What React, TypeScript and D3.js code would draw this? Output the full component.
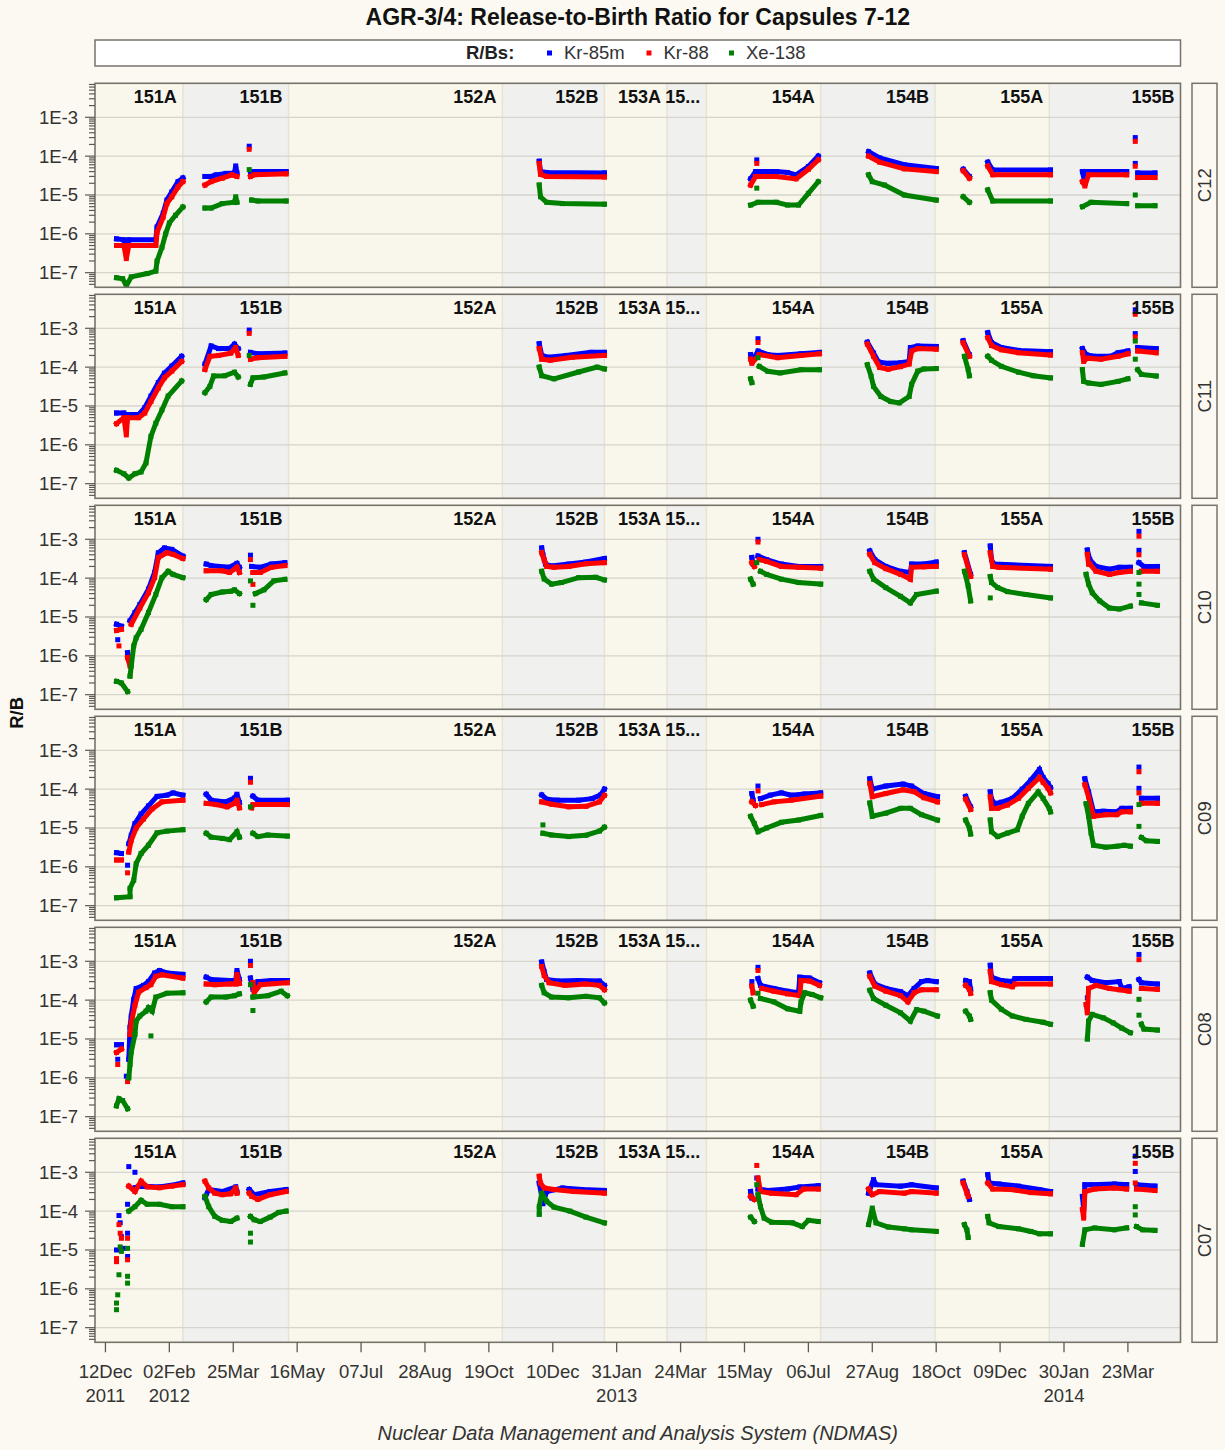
import { useEffect, useRef } from "react";
import * as d3 from "d3";

type Pt = [number, number];
type Runs = Pt[][];

// categories
const capsules = ["C12", "C11", "C10", "C09", "C08", "C07"];
const isotopes = ["Kr-85m", "Kr-88", "Xe-138"];
const cycleNames = ["151A", "151B", "152A", "152B", "153A", "153B", "154A", "154B", "155A", "155B"];
// end date of each cycle band (last one runs to the axis end)
const cycleEnds = ["2012-02-13", "2012-05-09", "2012-10-30", "2013-01-21", "2013-03-13", "2013-04-14", "2013-07-16", "2013-10-17", "2014-01-18", "2014-05-06"];
const tickDates = ["2011-12-12", "2012-02-02", "2012-03-25", "2012-05-16", "2012-07-07", "2012-08-28", "2012-10-19", "2012-12-10", "2013-01-31", "2013-03-24", "2013-05-15", "2013-07-06", "2013-08-27", "2013-10-18", "2013-12-09", "2014-01-30", "2014-03-23"];
const yTicks = [1e-7, 1e-6, 1e-5, 1e-4, 1e-3];

// series points: [days since 12Dec2011, R/B]; each inner list is one run of points
const START = "2011-12-12";

const c12Kr85m: Runs = [
  [[9,7.4e-7],[15,7e-7],[17,3e-7],[19,7e-7],[41,7e-7],[42,1.5e-6],[47,3.4e-6],[50,7.4e-6],[54,1.2e-5],[59,2.2e-5],[63,2.75e-5]],
  [[81,3e-5],[86,3e-5],[90,3.3e-5],[98,3.6e-5],[105,3.7e-5],[106,5.6e-5],[107,3.7e-5]],
  [[117,1.8e-4]],
  [[118,4e-5],[147,4e-5]],
  [[353,7.4e-5],[354,4e-5],[359,3.8e-5],[406,3.7e-5]],
  [[525,2.6e-5],[529,4e-5],[546,4e-5],[555,3.8e-5],[562,3.3e-5],[572,5.4e-5],[580,1e-4]],
  [[530,8e-5]],
  [[621,1.3e-4],[630,9e-5],[650,6e-5],[676,4.8e-5]],
  [[698,4.6e-5],[703,3e-5]],
  [[718,7e-5],[722,4.4e-5],[769,4.4e-5]],
  [[795,4e-5],[797,2e-5],[799,4e-5],[831,4e-5]],
  [[838,3e-4]],
  [[838,6.5e-5]],
  [[840,3.7e-5],[854,3.7e-5]],
];
const c12Kr88: Runs = [
  [[9,5e-7],[15,5e-7],[17,2.3e-7],[19,5e-7],[41,5e-7],[42,1.1e-6],[47,2.7e-6],[50,6e-6],[54,9e-6],[59,1.6e-5],[63,2.2e-5]],
  [[81,1.8e-5],[86,2.2e-5],[95,2.7e-5],[103,3.3e-5],[107,3e-5]],
  [[117,1.5e-4]],
  [[118,3e-5],[121,3.3e-5],[147,3.5e-5]],
  [[353,6.5e-5],[354,3.4e-5],[359,3e-5],[406,2.9e-5]],
  [[525,1.8e-5],[529,3e-5],[546,3e-5],[562,2.6e-5],[572,4.6e-5],[580,8e-5]],
  [[530,6.5e-5]],
  [[621,1e-4],[630,7e-5],[650,4.7e-5],[676,4e-5]],
  [[698,4.2e-5],[703,2.7e-5]],
  [[718,5.5e-5],[722,3.3e-5],[769,3.3e-5]],
  [[795,2.2e-5],[797,1.7e-5],[800,3.3e-5],[831,3.3e-5]],
  [[838,2.4e-4]],
  [[838,5.5e-5]],
  [[840,2.8e-5],[854,2.8e-5]],
];
const c12Xe138: Runs = [
  [[9,7.4e-8],[14,7e-8],[17,4.6e-8],[21,7.8e-8],[34,9.5e-8],[41,1.1e-7],[42,2e-7],[46,4.5e-7],[49,1e-6],[52,1.9e-6],[57,3e-6],[63,4.9e-6]],
  [[81,4.6e-6],[86,4.6e-6],[95,6e-6],[105,6.5e-6],[106,9e-6],[107,6.5e-6]],
  [[117,4.5e-5]],
  [[119,7.4e-6],[124,7e-6],[147,7e-6]],
  [[353,1.8e-5],[354,9e-6],[359,6.5e-6],[372,6e-6],[406,5.8e-6]],
  [[525,5.5e-6],[531,6.5e-6],[546,6.5e-6],[555,5.5e-6],[564,5.5e-6],[572,1.1e-5],[580,2.2e-5]],
  [[530,1.5e-5]],
  [[621,3.3e-5],[624,2.2e-5],[634,1.8e-5],[650,1e-5],[676,7.4e-6]],
  [[698,9e-6],[703,6.5e-6]],
  [[718,1.35e-5],[722,7e-6],[769,7e-6]],
  [[795,5e-6],[802,6.5e-6],[831,6e-6]],
  [[838,1e-5]],
  [[840,5.3e-6],[854,5.3e-6]],
];

const c11Kr85m: Runs = [
  [[9,6.6e-6],[15,6.6e-6],[17,3.1e-6],[18,6e-6],[27,6e-6],[32,9e-6],[37,1.8e-5],[43,4e-5],[48,7e-5],[54,1.07e-4],[62,1.9e-4]],
  [[81,1.2e-4],[86,3.5e-4],[92,3e-4],[101,3e-4],[105,3.9e-4],[108,3e-4]],
  [[117,9e-4]],
  [[118,2.4e-4],[124,2.2e-4],[146,2.3e-4]],
  [[353,4e-4],[355,2e-4],[360,1.8e-4],[375,2e-4],[395,2.4e-4],[406,2.4e-4]],
  [[525,2.1e-4],[526,1.4e-4],[531,2.6e-4],[539,2.1e-4],[547,2e-4],[566,2.2e-4],[581,2.4e-4]],
  [[531,5.4e-4]],
  [[620,4.4e-4],[625,2.3e-4],[629,1.35e-4],[637,1.25e-4],[647,1.3e-4],[654,1.4e-4],[655,3.2e-4],[661,3.5e-4],[676,3.4e-4]],
  [[698,4.8e-4],[703,2.1e-4]],
  [[718,7.7e-4],[721,4.3e-4],[729,3.2e-4],[743,2.7e-4],[769,2.5e-4]],
  [[795,3e-4],[798,2.1e-4],[804,1.9e-4],[818,1.9e-4],[824,2.35e-4],[832,2.6e-4]],
  [[838,3e-3]],
  [[838,7.3e-4]],
  [[840,3.2e-4],[855,3e-4]],
];
const c11Kr88: Runs = [
  [[9,3.5e-6],[15,5e-6],[17,1.8e-6],[18,5e-6],[27,5e-6],[32,6.6e-6],[37,1.3e-5],[43,2.9e-5],[48,5.3e-5],[54,7.9e-5],[62,1.4e-4]],
  [[81,8.7e-5],[85,1.9e-4],[92,2e-4],[102,2.3e-4],[106,3.2e-4],[108,2e-4]],
  [[117,7.4e-4]],
  [[118,1.6e-4],[124,1.75e-4],[146,1.9e-4]],
  [[353,3e-4],[355,1.6e-4],[362,1.5e-4],[380,1.8e-4],[406,2e-4]],
  [[525,1.6e-4],[526,1.25e-4],[532,2.1e-4],[547,1.75e-4],[566,2e-4],[581,2.2e-4]],
  [[531,4.3e-4]],
  [[620,3.9e-4],[625,1.9e-4],[630,9.8e-5],[637,8.8e-5],[647,1.03e-4],[654,1.2e-4],[656,2.6e-4],[661,3e-4],[676,2.9e-4]],
  [[698,4.2e-4],[703,1.9e-4]],
  [[718,5.7e-4],[721,3.6e-4],[729,2.8e-4],[743,2.35e-4],[769,2.05e-4]],
  [[795,2.35e-4],[796,1.4e-4],[799,1.7e-4],[810,1.6e-4],[824,1.9e-4],[832,2.2e-4]],
  [[838,2.3e-3]],
  [[838,6e-4]],
  [[840,2.6e-4],[855,2.35e-4]],
];
const c11Xe138: Runs = [
  [[9,2.2e-7],[15,1.8e-7],[19,1.4e-7],[24,1.8e-7],[29,2e-7],[33,3.4e-7],[37,1.65e-6],[41,3.6e-6],[46,7.9e-6],[51,1.8e-5],[62,4.4e-5]],
  [[81,2.2e-5],[85,3.2e-5],[88,5.9e-5],[97,6e-5],[105,7.4e-5],[108,5.6e-5]],
  [[117,2e-4]],
  [[118,3.6e-5],[120,5.3e-5],[129,5.6e-5],[146,7.1e-5]],
  [[353,1e-4],[355,6e-5],[365,5e-5],[385,7.5e-5],[400,1e-4],[406,9e-5]],
  [[525,5e-5],[526,4e-5]],
  [[531,1.75e-4]],
  [[532,1.05e-4],[539,7.8e-5],[549,7.1e-5],[566,8.6e-5],[581,8.6e-5]],
  [[620,1.15e-4],[623,5.9e-5],[625,3.2e-5],[631,1.75e-5],[639,1.3e-5],[646,1.2e-5],[654,1.75e-5],[656,3.6e-5],[661,7.9e-5],[666,9e-5],[676,9.2e-5]],
  [[699,1.9e-4],[702,8.7e-5],[703,6e-5]],
  [[718,1.9e-4],[721,1.5e-4],[729,1.05e-4],[743,7.4e-5],[755,6e-5],[769,5.3e-5]],
  [[795,8.6e-5],[796,4.3e-5],[800,3.9e-5],[810,3.6e-5],[824,4.3e-5],[832,5e-5]],
  [[838,4.7e-4]],
  [[838,1.6e-4]],
  [[840,8.6e-5],[843,6.5e-5],[855,5.9e-5]],
];

const c10Kr85m: Runs = [
  [[9,6.5e-6],[13,5.8e-6]],
  [[10,2.6e-6]],
  [[18,1.2e-6],[19,8e-7]],
  [[20,8e-6],[24,1.3e-5],[28,2.1e-5],[35,5.2e-5],[40,1.4e-4],[43,4.5e-4],[48,6e-4],[54,5.5e-4],[63,3.7e-4]],
  [[82,2.3e-4],[86,2.1e-4],[101,1.9e-4],[107,2.4e-4],[109,1.9e-4]],
  [[118,3.9e-4]],
  [[119,2e-4],[126,1.9e-4],[135,2.3e-4],[146,2.5e-4]],
  [[355,6e-4],[356,4e-4],[358,2.3e-4],[363,2.05e-4],[377,2.3e-4],[391,2.6e-4],[406,3.2e-4]],
  [[526,3.4e-4],[527,2.3e-4]],
  [[531,1e-3]],
  [[531,3.7e-4],[538,3e-4],[550,2.3e-4],[564,2e-4],[582,2e-4]],
  [[622,5e-4],[626,3e-4],[635,2e-4],[647,1.5e-4],[655,1.4e-4],[656,2.3e-4],[666,2.3e-4],[676,2.6e-4]],
  [[699,4.5e-4],[704,1.25e-4]],
  [[720,6.7e-4],[721,3e-4],[723,2.3e-4],[769,2e-4]],
  [[799,5.3e-4],[801,3e-4],[806,2e-4],[817,1.7e-4],[825,1.9e-4],[834,1.9e-4]],
  [[841,1.6e-3]],
  [[841,5.2e-4]],
  [[841,2.5e-4],[845,2e-4],[856,2e-4]],
];
const c10Kr88: Runs = [
  [[9,4.5e-6],[13,4.8e-6]],
  [[11,1.8e-6]],
  [[18,9e-7],[20,5.5e-7]],
  [[21,6.5e-6],[28,1.7e-5],[35,4.2e-5],[40,1.03e-4],[43,3.4e-4],[50,4.5e-4],[55,4.1e-4],[63,3.2e-4]],
  [[82,1.55e-4],[95,1.55e-4],[101,1.4e-4],[107,1.9e-4],[109,1.4e-4]],
  [[118,3e-4]],
  [[120,1.4e-4],[126,1.4e-4],[135,1.9e-4],[146,2.1e-4]],
  [[120,6.9e-5]],
  [[355,4.5e-4],[357,3e-4],[359,2e-4],[365,1.9e-4],[377,2e-4],[391,2.35e-4],[406,2.5e-4]],
  [[526,2.5e-4],[528,2e-4]],
  [[531,8.5e-4]],
  [[532,3e-4],[538,2.7e-4],[550,2e-4],[564,1.9e-4],[582,1.8e-4]],
  [[622,4.1e-4],[626,2.5e-4],[635,1.75e-4],[647,1.25e-4],[655,9.4e-5],[656,1.9e-4],[666,1.95e-4],[676,2e-4]],
  [[699,4e-4],[704,1.1e-4]],
  [[720,4.5e-4],[722,2e-4],[727,1.9e-4],[769,1.7e-4]],
  [[799,4.1e-4],[800,2.3e-4],[801,2.3e-4],[806,1.5e-4],[817,1.25e-4],[825,1.4e-4],[834,1.5e-4]],
  [[841,1.2e-3]],
  [[841,4e-4]],
  [[843,1.5e-4],[856,1.5e-4]],
];
const c10Xe138: Runs = [
  [[9,2.2e-7],[13,2e-7],[18,1.2e-7]],
  [[20,3e-7],[21,5.5e-7],[23,1.8e-6],[25,2.9e-6],[29,4.8e-6],[35,1.3e-5],[41,3.8e-5],[46,1.03e-4],[51,1.5e-4],[55,1.25e-4],[63,1.03e-4]],
  [[82,2.8e-5],[86,3.8e-5],[95,4.4e-5],[102,4.6e-5],[105,5e-5],[109,4e-5]],
  [[118,8.5e-5]],
  [[120,2e-5]],
  [[122,4e-5],[129,5e-5],[137,8.5e-5],[146,9.3e-5]],
  [[355,1.5e-4],[357,9.5e-5],[363,7e-5],[371,7.7e-5],[385,1.03e-4],[399,1.05e-4],[406,9e-5]],
  [[525,9.4e-5],[527,7e-5]],
  [[530,2.5e-4]],
  [[533,1.5e-4],[538,1.25e-4],[550,9.4e-5],[564,7.7e-5],[582,7e-5]],
  [[622,1.5e-4],[625,9.4e-5],[635,5.7e-5],[647,3.4e-5],[655,2.3e-5],[660,3.8e-5],[676,4.6e-5]],
  [[699,1.5e-4],[702,6.3e-5],[704,2.6e-5]],
  [[720,1.1e-4],[721,7.7e-5],[726,5.7e-5],[734,4.5e-5],[749,3.8e-5],[769,3.1e-5]],
  [[720,3.1e-5]],
  [[798,1.25e-4],[800,7e-5],[803,4.2e-5],[809,2.6e-5],[817,1.7e-5],[825,1.6e-5],[834,1.9e-5]],
  [[841,1.4e-4]],
  [[841,7e-5]],
  [[841,3.8e-5]],
  [[843,2.3e-5],[856,2e-5]],
];

const c09Kr85m: Runs = [
  [[9,2.3e-6],[13,2.2e-6]],
  [[18,1.1e-6]],
  [[19,3.9e-6],[21,6.5e-6],[24,1.3e-5],[29,2.3e-5],[35,3.7e-5],[42,6.5e-5],[50,7e-5],[55,8e-5],[63,7e-5]],
  [[82,7.4e-5],[86,5.2e-5],[98,4.7e-5],[105,5.9e-5],[107,7.4e-5],[109,4.5e-5]],
  [[118,1.9e-4]],
  [[120,6.6e-5],[124,5.2e-5],[148,5.2e-5]],
  [[355,7.1e-5],[359,5.5e-5],[368,5.2e-5],[385,5.2e-5],[396,5.7e-5],[403,7.1e-5],[406,1e-4]],
  [[526,7.7e-5],[527,5.2e-5]],
  [[531,1.2e-4]],
  [[533,5.7e-5],[541,7e-5],[550,8e-5],[558,7e-5],[569,7.5e-5],[582,8e-5]],
  [[622,1.85e-4],[624,1e-4],[635,1.2e-4],[649,1.35e-4],[656,1.2e-4],[666,7.7e-5],[677,6.4e-5]],
  [[700,6.5e-5],[704,3.5e-5]],
  [[720,8.5e-5],[721,5.5e-5],[724,4.2e-5],[729,4.6e-5],[738,5.8e-5],[746,1e-4],[753,1.7e-4],[760,3.2e-4],[763,2e-4],[767,1.4e-4],[769,1.1e-4]],
  [[797,1.85e-4],[800,8.5e-5],[804,2.6e-5],[812,2.7e-5],[823,2.6e-5],[827,3.2e-5],[834,3.2e-5]],
  [[841,3.7e-4]],
  [[841,1.05e-4]],
  [[843,5.8e-5],[856,5.8e-5]],
];
const c09Kr88: Runs = [
  [[9,1.5e-6],[13,1.5e-6]],
  [[18,7e-7]],
  [[19,2.4e-6],[21,4.8e-6],[25,1e-5],[31,1.7e-5],[38,3.1e-5],[46,4.7e-5],[63,5.2e-5]],
  [[82,4.3e-5],[90,4e-5],[99,3.5e-5],[105,4.3e-5],[107,5.2e-5],[109,3.3e-5]],
  [[118,1.5e-4]],
  [[119,3.3e-5],[120,4e-5],[148,4e-5]],
  [[355,4.7e-5],[363,4.1e-5],[377,3.5e-5],[391,3.6e-5],[402,4.7e-5],[406,6.9e-5]],
  [[526,4.7e-5],[529,3.8e-5]],
  [[531,9e-5]],
  [[534,4e-5],[544,4.7e-5],[558,5.2e-5],[582,6.6e-5]],
  [[622,1.4e-4],[624,6.4e-5],[635,7.7e-5],[649,9.6e-5],[658,8.6e-5],[666,6e-5],[677,4.7e-5]],
  [[700,5.5e-5],[704,3e-5]],
  [[720,6.3e-5],[721,3.2e-5],[726,3.2e-5],[734,3.9e-5],[743,5.8e-5],[751,1.05e-4],[760,2e-4],[763,1.5e-4],[767,1.05e-4],[769,8e-5]],
  [[797,1.3e-4],[800,6.3e-5],[804,2e-5],[814,2.2e-5],[823,2.2e-5],[827,2.6e-5],[834,2.6e-5]],
  [[841,2.8e-4]],
  [[841,8e-5]],
  [[843,4.3e-5],[856,4.3e-5]],
];
const c09Xe138: Runs = [
  [[9,1.6e-7],[20,1.7e-7],[20,2.8e-7],[23,4.5e-7],[25,1.2e-6],[29,2.2e-6],[35,3.6e-6],[42,7.5e-6],[50,8.3e-6],[63,9e-6]],
  [[82,7.3e-6],[86,5.8e-6],[95,5.4e-6],[101,5e-6],[107,8e-6],[109,5.8e-6]],
  [[118,3.5e-5]],
  [[120,7.3e-6],[124,6e-6],[132,6.6e-6],[148,6.2e-6]],
  [[356,1.2e-5]],
  [[356,7.3e-6],[363,6.6e-6],[377,6e-6],[391,6.5e-6],[402,8.3e-6],[406,1.05e-5]],
  [[525,2e-5],[528,1.3e-5],[531,8e-6],[538,1e-5],[550,1.4e-5],[564,1.6e-5],[582,2.1e-5]],
  [[622,4.4e-5],[624,2e-5],[635,2.4e-5],[647,3.2e-5],[655,3.2e-5],[664,2.2e-5],[677,1.6e-5]],
  [[700,1.6e-5],[703,1e-5],[704,7e-6]],
  [[720,1.6e-5],[721,8e-6],[726,6e-6],[734,7.4e-6],[742,9e-6],[746,2e-5],[751,4.3e-5],[759,8.5e-5],[763,5.8e-5],[768,3.2e-5],[769,2.6e-5]],
  [[798,4.2e-5],[800,2e-5],[802,7.4e-6],[804,3.6e-6],[814,3.2e-6],[823,3.4e-6],[829,3.6e-6],[834,3.4e-6]],
  [[841,4e-5]],
  [[841,1.1e-5]],
  [[843,5.7e-6],[847,4.7e-6],[856,4.5e-6]],
];

const c08Kr85m: Runs = [
  [[9,7.1e-6],[13,7.1e-6]],
  [[10,3e-6]],
  [[17,1.1e-6]],
  [[19,3e-6],[20,2e-5],[21,3.9e-5],[23,1.05e-4],[25,2e-4],[31,2.4e-4],[35,3e-4],[40,5e-4],[44,5.8e-4],[50,5e-4],[63,4.6e-4]],
  [[82,3.9e-4],[86,3.4e-4],[101,3.2e-4],[106,3.2e-4],[107,5.8e-4],[109,3.4e-4]],
  [[118,1e-3]],
  [[118,3.7e-4],[120,1.9e-4],[124,3e-4],[135,3.2e-4],[148,3.2e-4]],
  [[355,9.6e-4],[357,5.5e-4],[359,3.4e-4],[368,3.1e-4],[385,3.2e-4],[402,3.1e-4],[406,2.4e-4]],
  [[526,3e-4]],
  [[531,7e-4]],
  [[531,3.6e-4],[533,2.4e-4],[544,2e-4],[555,1.7e-4],[564,1.55e-4],[565,3.9e-4],[573,3.7e-4],[581,2.8e-4]],
  [[622,5e-4],[626,2.6e-4],[635,2e-4],[647,1.65e-4],[653,1.3e-4],[658,2e-4],[664,3e-4],[669,3.2e-4],[676,3e-4]],
  [[700,3.2e-4],[703,3e-4],[704,1.9e-4]],
  [[720,7.9e-4],[721,3.9e-4],[729,3.2e-4],[738,3e-4],[740,3.6e-4],[769,3.6e-4]],
  [[799,1.15e-4]],
  [[799,3.9e-4],[803,3.2e-4],[814,2.8e-4],[825,3e-4],[827,2e-4],[833,2.2e-4]],
  [[841,1.5e-3]],
  [[841,3.4e-4],[843,2.8e-4],[856,2.6e-4]],
];
const c08Kr88: Runs = [
  [[9,4.5e-6],[13,5.5e-6]],
  [[10,2.2e-6]],
  [[18,8e-7]],
  [[20,1.3e-5],[21,2.6e-5],[24,7.4e-5],[27,1.6e-4],[33,2.1e-4],[37,2.5e-4],[41,4.1e-4],[46,4.5e-4],[63,3.7e-4]],
  [[82,2.6e-4],[89,2.5e-4],[101,2.6e-4],[106,2.6e-4],[107,4.6e-4],[109,2.7e-4]],
  [[118,7.8e-4]],
  [[120,2.8e-4],[121,1.55e-4],[126,2.5e-4],[148,2.8e-4]],
  [[355,7.3e-4],[357,4.3e-4],[361,2.8e-4],[374,2.4e-4],[391,2.6e-4],[402,2.4e-4],[406,1.85e-4]],
  [[526,2.3e-4],[527,1.55e-4]],
  [[531,5.8e-4]],
  [[534,2e-4],[544,1.7e-4],[555,1.45e-4],[565,1.3e-4],[566,3.2e-4],[573,3.1e-4],[581,2.4e-4]],
  [[622,4.1e-4],[626,2.3e-4],[635,1.7e-4],[647,1.3e-4],[653,9e-5],[658,1.55e-4],[664,1.85e-4],[676,1.85e-4]],
  [[700,2.4e-4],[703,1.9e-4],[704,1.5e-4]],
  [[720,5.5e-4],[721,3e-4],[729,2.5e-4],[738,2.2e-4],[740,2.6e-4],[769,2.6e-4]],
  [[798,7.7e-5],[799,4.7e-5],[800,2e-4],[806,2.4e-4],[817,2e-4],[825,1.85e-4],[833,1.7e-4]],
  [[841,1.1e-3]],
  [[843,2e-4],[856,1.9e-4]],
];
const c08Xe138: Runs = [
  [[9,1.9e-7],[11,2.9e-7],[14,2.6e-7],[18,1.6e-7]],
  [[19,1e-6],[20,2.2e-6],[21,4.6e-6],[24,1.3e-5],[25,2.9e-5],[28,3.9e-5],[33,5.2e-5],[35,6.4e-5],[38,5.2e-5],[41,1.2e-4],[50,1.5e-4],[63,1.55e-4]],
  [[37,1.2e-5]],
  [[82,9e-5],[86,1.2e-4],[98,1.2e-4],[105,1.3e-4],[109,1.45e-4]],
  [[118,2.5e-4]],
  [[120,5.4e-5]],
  [[120,1.2e-4],[132,1.3e-4],[143,1.7e-4],[148,1.3e-4]],
  [[355,2.4e-4],[357,1.55e-4],[363,1.2e-4],[377,1.15e-4],[391,1.25e-4],[402,1.15e-4],[406,8.5e-5]],
  [[525,1e-4],[527,7e-5]],
  [[531,1.5e-4]],
  [[533,1.1e-4],[544,9e-5],[555,6e-5],[565,5.2e-5],[566,9e-5],[569,1.55e-4],[575,1.4e-4],[582,1.15e-4]],
  [[622,1.8e-4],[625,1.1e-4],[635,7.4e-5],[647,4.7e-5],[655,2.9e-5],[660,5.7e-5],[666,5.2e-5],[677,3.9e-5]],
  [[700,5.2e-5],[703,3.9e-5],[704,3.2e-5]],
  [[720,1.55e-4],[721,1e-4],[729,5.8e-5],[738,3.9e-5],[749,3.2e-5],[763,2.7e-5],[769,2.4e-5]],
  [[799,1e-5],[800,2.9e-5],[803,4.3e-5],[812,3.5e-5],[820,2.6e-5],[827,1.9e-5],[834,1.45e-5]],
  [[841,1.05e-4]],
  [[841,4.1e-5]],
  [[843,2.4e-5],[845,1.8e-5],[856,1.7e-5]],
];

const c07Kr85m: Runs = [
  [[9,1e-5]], [[11,7.7e-5]], [[12,5e-5]], [[13,2.2e-5]], [[15,1.1e-5]], [[18,2.7e-5]], [[18,6.8e-6]], [[18,1.5e-4]], [[19,1.4e-3]], [[24,1e-3]],
  [[24,4e-4],[28,4.4e-4],[44,4.2e-4],[60,5e-4],[63,5.3e-4]],
  [[81,2.2e-4],[84,3.6e-4],[95,3.2e-4],[106,4.2e-4],[107,3.2e-4]],
  [[117,3.6e-4],[121,2.65e-4],[134,3.2e-4],[147,3.6e-4]],
  [[353,5.3e-4],[355,2.4e-4],[356,1.55e-4],[359,3.2e-4],[372,3.95e-4],[388,3.6e-4],[406,3.4e-4]],
  [[525,3.2e-4],[526,2.2e-4]],
  [[530,7.1e-4]],
  [[531,3.7e-4],[539,3.4e-4],[555,3.7e-4],[565,4.2e-4],[580,4.5e-4]],
  [[621,2.9e-4],[625,6.5e-4],[627,4.8e-4],[647,4.4e-4],[656,4.8e-4],[676,3.95e-4]],
  [[698,5.9e-4],[701,3.2e-4],[703,2e-4]],
  [[718,8.7e-4],[719,5.3e-4],[727,5e-4],[743,4.4e-4],[760,3.6e-4],[769,3.2e-4]],
  [[795,2.4e-4],[796,1.1e-4],[797,4.8e-4],[802,4.8e-4],[821,5e-4],[831,4.8e-4]],
  [[838,2.6e-3]],
  [[838,1.05e-3]],
  [[839,4.8e-4],[854,4.4e-4]],
];
const c07Kr88: Runs = [
  [[9,6e-6]], [[9,5e-6]], [[11,4.5e-5]], [[12,2.7e-5]], [[13,2e-5]], [[18,2e-5]], [[18,5.6e-6]],
  [[19,4.4e-4],[24,3.2e-4],[29,5.9e-4],[34,4.2e-4],[44,4e-4],[54,4.4e-4],[63,4.8e-4]],
  [[81,5.9e-4],[84,3.95e-4],[89,2.9e-4],[95,2.65e-4],[102,2.8e-4],[106,4e-4],[107,2.9e-4]],
  [[117,2.9e-4],[119,2.4e-4],[124,2e-4],[134,2.65e-4],[147,3.2e-4]],
  [[353,7.9e-4],[354,5.3e-4],[357,3.95e-4],[365,3.6e-4],[381,3.2e-4],[406,2.9e-4]],
  [[525,2.4e-4],[528,2e-4]],
  [[530,1.5e-3]],
  [[531,7.1e-4],[533,3.2e-4],[542,2.9e-4],[562,2.65e-4],[568,3.7e-4],[580,3.7e-4]],
  [[621,3.7e-4],[624,2.65e-4],[630,3.2e-4],[650,2.9e-4],[656,3.2e-4],[676,2.9e-4]],
  [[698,5.3e-4],[701,2.9e-4],[702,2.4e-4]],
  [[718,5.3e-4],[722,3.7e-4],[737,3.6e-4],[753,3e-4],[769,2.8e-4]],
  [[795,1.1e-4],[796,6.6e-5],[797,3.2e-4],[805,3.7e-4],[821,3.95e-4],[831,3.7e-4]],
  [[838,1.7e-3]],
  [[838,5.3e-4]],
  [[839,3.7e-4],[854,3.4e-4]],
];
const c07Xe138: Runs = [
  [[9,2.9e-7]], [[9,4.3e-7]], [[10,7e-7]], [[11,2.3e-6]], [[12,1.2e-5]], [[13,9.2e-6]], [[18,1.4e-6]], [[18,2.1e-6]], [[18,1.1e-5]],
  [[19,1e-4],[24,1.3e-4],[29,1.9e-4],[34,1.5e-4],[44,1.5e-4],[54,1.3e-4],[63,1.3e-4]],
  [[81,2.4e-4],[84,1.3e-4],[89,7.3e-5],[95,5.8e-5],[102,5.4e-5],[107,6.6e-5]],
  [[118,2.7e-5]], [[118,1.6e-5]],
  [[118,7.3e-5],[121,6e-5],[126,5.4e-5],[134,7e-5],[141,9.3e-5],[147,1e-4]],
  [[353,8.3e-5],[353,1.3e-4],[355,2.9e-4],[359,1.8e-4],[365,1.27e-4],[378,1e-4],[391,7e-5],[406,5e-5]],
  [[525,7e-5],[528,5.4e-5]],
  [[530,4.8e-4]],
  [[531,2.65e-4],[533,1.3e-4],[536,6.6e-5],[542,5.2e-5],[559,5e-5],[567,4e-5],[572,5.8e-5],[580,5.4e-5]],
  [[621,4.5e-5],[624,1.2e-4],[627,5e-5],[637,3.9e-5],[650,3.5e-5],[656,3.3e-5],[676,3e-5]],
  [[699,4.5e-5],[701,3.3e-5],[702,2.1e-5]],
  [[718,7.3e-5],[719,5e-5],[727,4e-5],[743,3.5e-5],[753,3e-5],[760,2.6e-5],[769,2.6e-5]],
  [[795,1.4e-5],[797,3.3e-5],[805,3.7e-5],[821,3.3e-5],[831,3.7e-5]],
  [[838,1.3e-4]],
  [[838,8e-5]],
  [[839,4e-5],[844,3.3e-5],[854,3.2e-5]],
];

const seriesByCapsule: Runs[][] = [
  [c12Kr85m, c12Kr88, c12Xe138],
  [c11Kr85m, c11Kr88, c11Xe138],
  [c10Kr85m, c10Kr88, c10Xe138],
  [c09Kr85m, c09Kr88, c09Xe138],
  [c08Kr85m, c08Kr88, c08Xe138],
  [c07Kr85m, c07Kr88, c07Xe138],
];

const COLORS = ["#0000FF", "#FF0000", "#008000"];
const FONT = "'Liberation Sans', Arial, sans-serif";

export default function App() {
  const ref = useRef<SVGSVGElement>(null);

  useEffect(() => {
    const el = ref.current;
    if (!el) return;
    const W = 1225, H = 1450;
    const L = 95, R = 1180.5, T0 = 83.3, PH = 204, GAP = 7;
    const svg = d3.select(el);
    svg.selectAll("*").remove();

    const parse = d3.utcParse("%Y-%m-%d");
    const t0 = parse(START)!.getTime();
    const dayDate = (d: number) => new Date(t0 + d * 864e5);
    const x = d3.scaleUtc().domain([dayDate(-8.5), dayDate(874.8)]).range([L, R]);

    svg.append("rect").attr("width", W).attr("height", H).attr("fill", "#FBF9F1");

    // title + legend
    svg.append("text").attr("x", (L + R) / 2).attr("y", 25).attr("text-anchor", "middle")
      .attr("font-family", FONT).attr("font-size", 23).attr("font-weight", "bold").attr("fill", "#111")
      .text("AGR-3/4: Release-to-Birth Ratio for Capsules 7-12");
    svg.append("rect").attr("x", L).attr("y", 40).attr("width", R - L).attr("height", 26)
      .attr("fill", "#FFFFFF").attr("stroke", "#77736A").attr("stroke-width", 1.5);
    svg.append("text").attr("x", 466).attr("y", 59).attr("font-family", FONT).attr("font-size", 18.5)
      .attr("font-weight", "bold").attr("fill", "#222").text("R/Bs:");
    const legX = [549.5, 649, 731.5];
    isotopes.forEach((name, k) => {
      svg.append("rect").attr("x", legX[k] - 2.5).attr("y", 50.5).attr("width", 5).attr("height", 5).attr("fill", COLORS[k]);
      svg.append("text").attr("x", legX[k] + 14.5).attr("y", 59).attr("font-family", FONT).attr("font-size", 18.5)
        .attr("fill", "#333").text(name);
    });

    const cycleStarts = cycleEnds.map((_, j) => (j === 0 ? L : x(parse(cycleEnds[j - 1])!)));
    const cycleStops = cycleEnds.map((e, j) => (j === cycleEnds.length - 1 ? R : x(parse(e)!)));

    capsules.forEach((cap, i) => {
      const top = T0 + i * (PH + GAP);
      const y = d3.scaleLog().domain([4.2e-8, 7.5e-3]).range([top + PH, top]);
      const g = svg.append("g");

      // cycle bands
      cycleNames.forEach((_, j) => {
        g.append("rect").attr("x", cycleStarts[j]).attr("y", top).attr("width", cycleStops[j] - cycleStarts[j]).attr("height", PH)
          .attr("fill", j % 2 ? "#F0F0EE" : "#F9F7EB");
        if (j > 0) g.append("line").attr("x1", cycleStarts[j]).attr("x2", cycleStarts[j]).attr("y1", top).attr("y2", top + PH)
          .attr("stroke", "#E6E3D6").attr("stroke-width", 1.5);
      });

      // grid
      g.selectAll("line.grid").data(yTicks).join("line")
        .attr("x1", L).attr("x2", R).attr("y1", (d) => y(d)).attr("y2", (d) => y(d))
        .attr("stroke", "#D6D4CC").attr("stroke-width", 1.3);

      // data
      const clipId = `clip-${cap}`;
      svg.append("clipPath").attr("id", clipId).append("rect").attr("x", L).attr("y", top).attr("width", R - L).attr("height", PH);
      const dg = g.append("g").attr("clip-path", `url(#${clipId})`);
      const line = d3.line<Pt>().x((d) => x(dayDate(d[0]))).y((d) => y(d[1]));
      seriesByCapsule[i].forEach((runs, k) => {
        runs.filter((r) => r.length > 1).forEach((r) => {
          dg.append("path").attr("d", line(r)).attr("fill", "none").attr("stroke", COLORS[k])
            .attr("stroke-width", 5).attr("stroke-linejoin", "miter").attr("stroke-miterlimit", 2).attr("stroke-linecap", "square");
        });
        dg.selectAll(`rect.m${k}`).data(runs.flat()).join("rect").attr("class", `m${k}`)
          .attr("x", (d) => x(dayDate(d[0])) - 2.5).attr("y", (d) => y(d[1]) - 2.5)
          .attr("width", 5).attr("height", 5).attr("fill", COLORS[k]);
      });

      // cycle labels
      cycleNames.forEach((name, j) => {
        const wide = cycleStops[j] - cycleStarts[j];
        g.append("text").attr("x", cycleStops[j] - 6).attr("y", top + 20).attr("text-anchor", "end")
          .attr("font-family", FONT).attr("font-size", 18).attr("font-weight", "bold").attr("fill", "#111")
          .text(wide < 50 ? name.slice(0, 2) + "..." : name);
      });

      // border
      g.append("rect").attr("x", L).attr("y", top).attr("width", R - L).attr("height", PH)
        .attr("fill", "none").attr("stroke", "#77736A").attr("stroke-width", 1.6);

      // y ticks (log minor ticks)
      const minor: number[] = [];
      for (let e = -8; e <= -3; e++) for (let m = 1; m <= 9; m++) {
        const v = m * Math.pow(10, e);
        if (v >= 4.2e-8 && v <= 7.5e-3) minor.push(v);
      }
      g.selectAll("line.tk").data(minor).join("line")
        .attr("x1", (d) => (yTicks.some((t) => Math.abs(t / d - 1) < 1e-6) ? L - 10 : L - 6)).attr("x2", L)
        .attr("y1", (d) => y(d)).attr("y2", (d) => y(d))
        .attr("stroke", "#5E5A52").attr("stroke-width", 1.2);
      g.selectAll("text.yl").data(yTicks).join("text")
        .attr("x", L - 17).attr("y", (d) => y(d)).attr("dy", "0.35em").attr("text-anchor", "end")
        .attr("font-family", FONT).attr("font-size", 18.5).attr("fill", "#333")
        .text((d) => `1E${Math.round(Math.log10(d))}`);

      // strip
      g.append("rect").attr("x", 1192).attr("y", top).attr("width", 25).attr("height", PH)
        .attr("fill", "#FBF9F1").attr("stroke", "#77736A").attr("stroke-width", 1.5);
      g.append("text").attr("transform", `translate(1211,${top + PH / 2}) rotate(-90)`).attr("text-anchor", "middle")
        .attr("font-family", FONT).attr("font-size", 18.5).attr("fill", "#333").text(cap);
    });

    // x axis under last panel
    const bottom = T0 + 5 * (PH + GAP) + PH;
    const ticks = tickDates.map((s) => parse(s)!);
    const xa = svg.append("g");
    xa.selectAll("line").data(ticks).join("line")
      .attr("x1", (d) => x(d)).attr("x2", (d) => x(d)).attr("y1", bottom).attr("y2", bottom + 10)
      .attr("stroke", "#5E5A52").attr("stroke-width", 1.3);
    const fmt = d3.utcFormat("%d%b");
    xa.selectAll("text.d").data(ticks).join("text").attr("class", "d")
      .attr("x", (d) => x(d)).attr("y", bottom + 36).attr("text-anchor", "middle")
      .attr("font-family", FONT).attr("font-size", 18.5).attr("fill", "#333").text((d) => fmt(d));
    xa.selectAll("text.yr").data(ticks.filter((d, j) => j === 0 || d.getUTCFullYear() !== ticks[j - 1].getUTCFullYear())).join("text").attr("class", "yr")
      .attr("x", (d) => x(d)).attr("y", bottom + 60).attr("text-anchor", "middle")
      .attr("font-family", FONT).attr("font-size", 18.5).attr("fill", "#333").text((d) => d.getUTCFullYear());

    svg.append("text").attr("transform", `translate(23,${T0 + (6 * PH + 5 * GAP) / 2}) rotate(-90)`).attr("text-anchor", "middle")
      .attr("font-family", FONT).attr("font-size", 18.5).attr("font-weight", "bold").attr("fill", "#111").text("R/B");

    svg.append("text").attr("x", (L + R) / 2).attr("y", 1440).attr("text-anchor", "middle")
      .attr("font-family", FONT).attr("font-size", 20).attr("font-style", "italic").attr("fill", "#333")
      .text("Nuclear Data Management and Analysis System (NDMAS)");
  }, []);

  return <svg ref={ref} width={1225} height={1450} style={{ position: "absolute", left: 0, top: 0 }} role="img" aria-label="AGR-3/4 release-to-birth ratio" />;
}
